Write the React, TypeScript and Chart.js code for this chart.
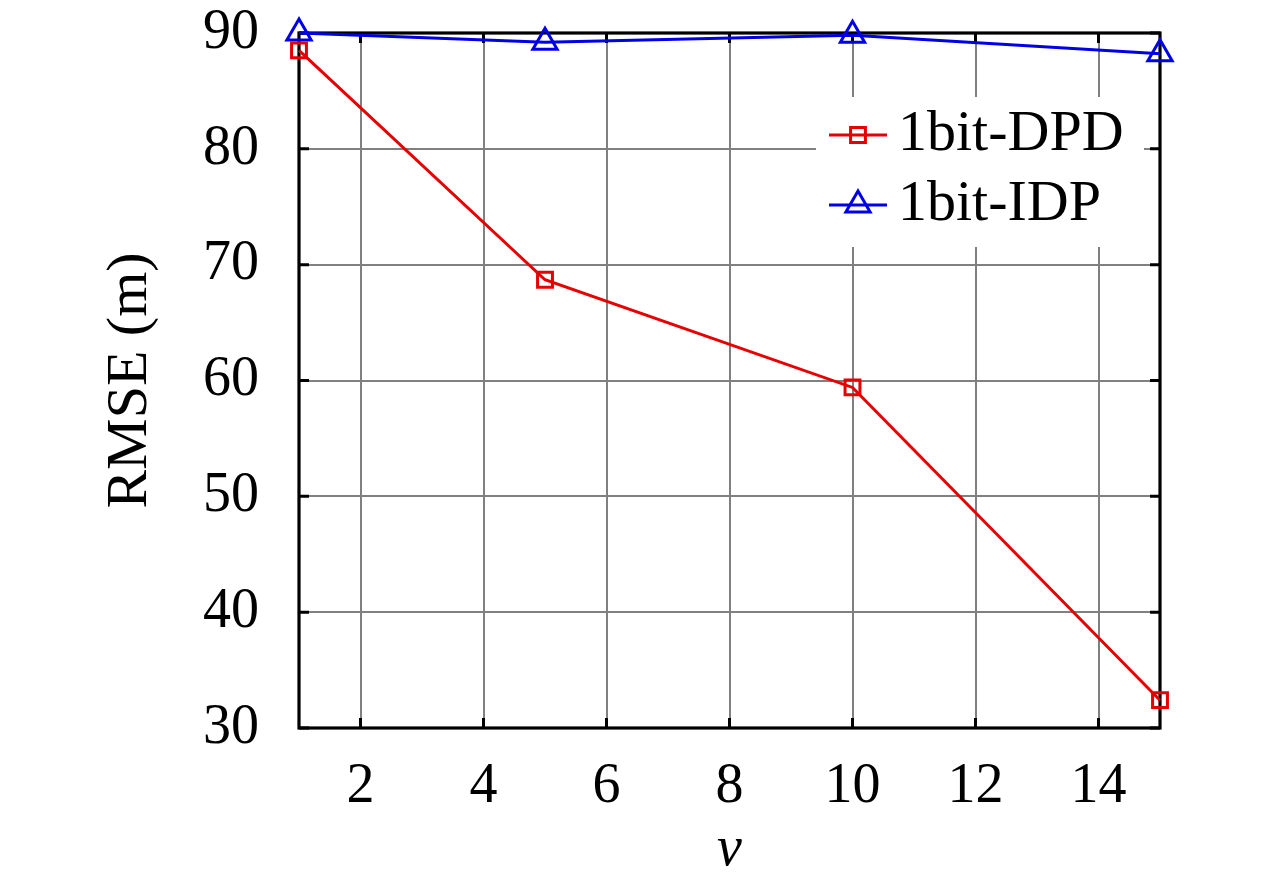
import React, { useEffect, useRef } from 'react';
import { Chart, registerables } from 'chart.js';
import { drawPoint } from 'chart.js/helpers';

Chart.register(...registerables);

// ---- data ----
const V_VALUES = [1, 5, 10, 15];
const DPD_RMSE = [88.5, 68.7, 59.4, 32.4];
const IDP_RMSE = [90.0, 89.2, 89.8, 88.2];
const X_TICKS = [2, 4, 6, 8, 10, 12, 14];
const Y_TICKS = [30, 40, 50, 60, 70, 80, 90];
const SERIES_LABELS = ['1bit-DPD', '1bit-IDP'];
const X_TITLE = 'v';
const Y_TITLE = 'RMSE (m)';

const FONT = "'Liberation Serif', 'Times New Roman', serif";
const RED = '#e60000';
const BLUE = '#0000e6';

const frameAndTicks = {
  id: 'frameAndTicks',
  beforeDatasetsDraw(chart: any) {
    const { ctx, chartArea } = chart;
    const { left, right, top, bottom } = chartArea;
    const xs = chart.scales.x;
    const ys = chart.scales.y;
    const tl = 10;
    ctx.save();
    ctx.strokeStyle = '#000';
    ctx.lineWidth = 3;
    ctx.beginPath();
    for (const t of xs.ticks) {
      const px = xs.getPixelForValue(t.value);
      ctx.moveTo(px, bottom);
      ctx.lineTo(px, bottom - tl);
      ctx.moveTo(px, top);
      ctx.lineTo(px, top + tl);
    }
    for (const t of ys.ticks) {
      const py = ys.getPixelForValue(t.value);
      ctx.moveTo(left, py);
      ctx.lineTo(left + tl, py);
      ctx.moveTo(right, py);
      ctx.lineTo(right - tl, py);
    }
    ctx.stroke();
    ctx.lineWidth = 3.2;
    ctx.strokeRect(left, top, right - left, bottom - top);
    ctx.restore();
  },
};

const boxLegend = {
  id: 'boxLegend',
  afterDatasetsDraw(chart: any) {
    const { ctx, chartArea } = chart;
    const boxRight = chartArea.right - 16;
    const boxLeft = boxRight - 328;
    const boxTop = chartArea.top + 64;
    const boxH = 150;
    ctx.save();
    ctx.fillStyle = '#fff';
    ctx.fillRect(boxLeft, boxTop, boxRight - boxLeft, boxH);
    chart.data.datasets.forEach((ds: any, i: number) => {
      const y = boxTop + 38 + i * 70;
      ctx.strokeStyle = ds.borderColor;
      ctx.lineWidth = ds.borderWidth;
      ctx.beginPath();
      ctx.moveTo(boxLeft + 13, y);
      ctx.lineTo(boxLeft + 71, y);
      ctx.stroke();
      ctx.fillStyle = 'rgba(0,0,0,0)';
      ctx.lineWidth = ds.pointBorderWidth;
      drawPoint(ctx, { pointStyle: ds.pointStyle, radius: ds.pointRadius, rotation: 0, borderWidth: ds.pointBorderWidth }, boxLeft + 42, y);
      ctx.fillStyle = '#000';
      ctx.font = `58px ${FONT}`;
      ctx.textAlign = 'left';
      ctx.textBaseline = 'middle';
      ctx.fillText(ds.label, boxLeft + 82, y);
    });
    ctx.restore();
  },
};

export default function App() {
  const ref = useRef<HTMLCanvasElement | null>(null);

  useEffect(() => {
    if (!ref.current) return;
    const chart = new Chart(ref.current, {
      type: 'line',
      data: {
        datasets: [
          {
            label: SERIES_LABELS[0],
            data: V_VALUES.map((v, i) => ({ x: v, y: DPD_RMSE[i] })),
            borderColor: RED,
            borderWidth: 3,
            pointStyle: 'rect',
            pointRadius: 10.5,
            pointBorderWidth: 3,
            pointBorderColor: RED,
            pointBackgroundColor: 'rgba(0,0,0,0)',
            fill: false,
            tension: 0,
            clip: false as any,
          },
          {
            label: SERIES_LABELS[1],
            data: V_VALUES.map((v, i) => ({ x: v, y: IDP_RMSE[i] })),
            borderColor: BLUE,
            borderWidth: 3,
            pointStyle: 'triangle',
            pointRadius: 14,
            pointBorderWidth: 3,
            pointBorderColor: BLUE,
            pointBackgroundColor: 'rgba(0,0,0,0)',
            fill: false,
            tension: 0,
            clip: false as any,
          },
        ],
      },
      options: {
        responsive: false,
        animation: false,
        devicePixelRatio: 1,
        layout: { padding: { left: 0, top: 33, right: 120, bottom: 3 } },
        plugins: { legend: { display: false }, tooltip: { enabled: false } },
        scales: {
          x: {
            type: 'linear',
            min: 1,
            max: 15,
            afterBuildTicks: (scale: any) => {
              scale.ticks = X_TICKS.map((v) => ({ value: v }));
            },
            afterFit: (scale: any) => {
              scale.height = 159;
              scale.paddingLeft = 0;
              scale.paddingRight = 0;
            },
            grid: { color: '#808080', lineWidth: 2, drawTicks: false },
            border: { display: false },
            ticks: {
              color: '#000',
              padding: 26,
              maxRotation: 0,
              autoSkip: false,
              font: { family: FONT, size: 56 },
            },
            title: {
              display: true,
              text: X_TITLE,
              color: '#000',
              font: { family: FONT, size: 56, style: 'italic' },
              padding: { top: 0, bottom: 3 },
            },
          },
          y: {
            type: 'linear',
            min: 30,
            max: 90,
            afterBuildTicks: (scale: any) => {
              scale.ticks = Y_TICKS.map((v) => ({ value: v }));
            },
            afterFit: (scale: any) => {
              scale.width = 299;
              scale.paddingTop = 0;
              scale.paddingBottom = 0;
            },
            grid: { color: '#808080', lineWidth: 2, drawTicks: false },
            border: { display: false },
            ticks: {
              color: '#000',
              padding: 40,
              autoSkip: false,
              font: { family: FONT, size: 56 },
            },
            title: {
              display: true,
              text: Y_TITLE,
              color: '#000',
              font: { family: FONT, size: 58 },
              padding: { top: 96, bottom: 0 },
            },
          },
        },
      },
      plugins: [frameAndTicks, boxLegend],
    });
    return () => chart.destroy();
  }, []);

  return (
    <div style={{ position: 'fixed', left: 0, top: 0, width: 1280, height: 890, background: '#fff' }}>
      <canvas ref={ref} width={1280} height={890} style={{ width: 1280, height: 890, display: 'block' }} />
    </div>
  );
}
